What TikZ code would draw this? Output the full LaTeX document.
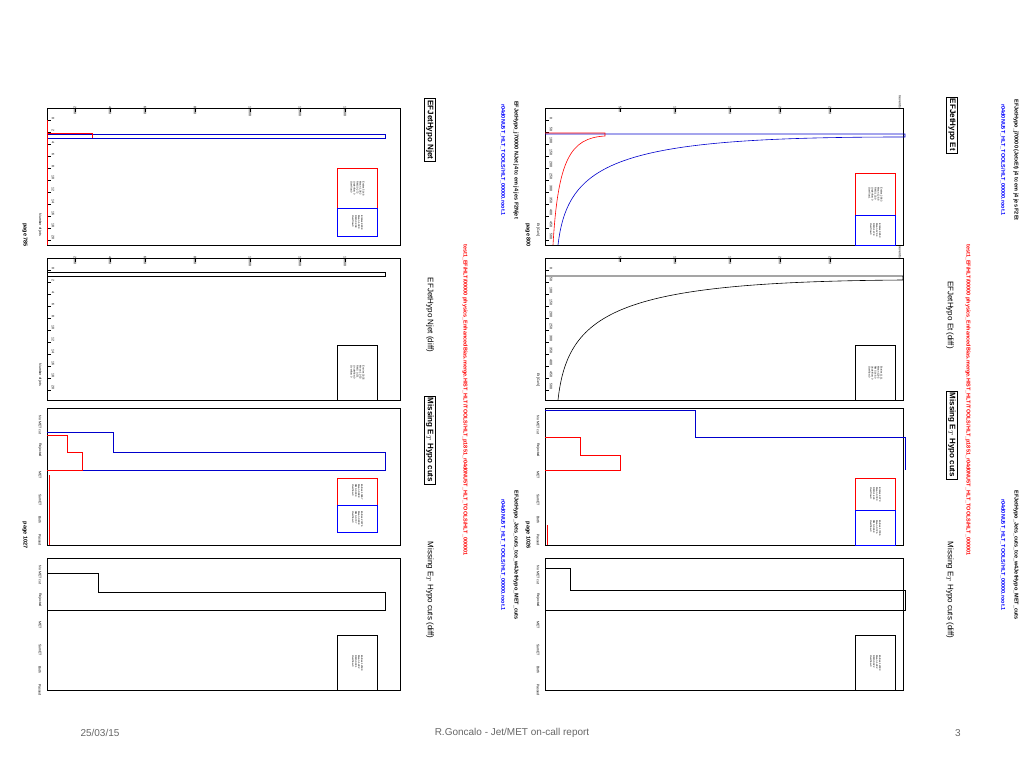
\documentclass[tikz,border=0pt]{standalone}
\usepackage{fontspec}
\setmainfont{Liberation Sans}
\begin{document}
\begin{tikzpicture}[
	x=1pt, y=-1pt,
	frame/.style={draw, line width=0.5pt},
	hred/.style={draw=red, line width=0.6pt},
	hblue/.style={draw=blue!80!black, line width=0.6pt},
	hblack/.style={draw=black, line width=0.6pt},
	titlebox/.style={draw, line width=0.8pt, rotate=-90, font=\fontsize{8}{8}\selectfont\bfseries, inner sep=2pt, fill=white},
	titlefree/.style={rotate=-90, font=\fontsize{8}{8}\selectfont},
	statbox/.style={draw, line width=0.8pt, minimum width=40pt, fill=white},
	stattxt/.style={rotate=-90, font=\fontsize{2.5}{3}\selectfont, inner sep=0.5pt},
	head/.style={rotate=-90, font=\fontsize{5.5}{6}\selectfont\bfseries, inner sep=0pt},
	tick/.style={rotate=-90, font=\fontsize{3.5}{3.5}\selectfont, inner sep=0.5pt},
	foot/.style={font=\fontsize{10}{10}\selectfont, text=black!60}
	]
	\useasboundingbox (0,0) rectangle (1024,768);
	
	%-----------------------
	% Right page (page 800)
	%-----------------------
	\node[head, text=black] (rhd1) at (1016,160) {EFJetHypo\_j70000 (JetxEt) j4 tc em j4 jes F2Et};
	\node[head, text=blue]  (rhd2) at (1003,160) {r04d0NU5T\_HLT\_TOOLS/HLT\_00000.root.1};
	\node[head, text=red]   (rhd3) at (968,400) {test1\_EF/HLT/00000 physics\_EnhancedBias.merge.HIST\_HLT/TOOLS/HLT\_p1851\_r04d0NU5T\_HLT\_TOOLS/HLT\_000001};
	\node[head, text=black] (rhd4) at (1016,555) {EFJetHypo\_Jets\_cuts\_tce\_w4JetHypo\_MET\_cuts};
	\node[head, text=blue]  (rhd5) at (1003,555) {r04d0NU5T\_HLT\_TOOLS/HLT\_00000.root.1};
	\node[head, text=black] (rpage) at (528,235) {page 800};
	\node[head, text=black] (rpage2) at (528,535) {page 1026};
	
	% frames
	\draw[frame] (545,108) rectangle (903,245);
	\draw[frame] (545,258) rectangle (903,400);
	\draw[frame] (545,408) rectangle (903,545);
	\draw[frame] (545,558) rectangle (903,690);
	\foreach \yy in {108,258} {
		\foreach \xx/\lb in {620/500,675/1000,730/1500,780/2000,830/2500} {
			\draw (\xx,\yy) -- (\xx,\yy+4);
			\node[tick, anchor=west] at (\xx,\yy-2) {\lb};
		}
		\foreach \yt/\lb in {120/0,132/50,144/100,156/150,168/200,180/250,192/300,204/350,216/400,228/450,240/500} {
			\draw (545,\yt+\yy-108) -- (549,\yt+\yy-108);
			\node[tick, anchor=east] at (551,\yt+\yy-108) {\lb};
		}
		\node[tick] (n\yy) at (900,\yy-6) {nevents};
	}
	\node[tick] (lx1) at (538,230) {Et [GeV]};
	\node[tick] (lx2) at (538,380) {Et [GeV]};
	
	% Et histograms
	\draw[hblue] (545,134) -- (905,134) -- (905,137) .. controls (620,137) and (568,160) .. (558,245);
	\draw[hred] (545,133) -- (605,133) -- (605,136) .. controls (570,138) and (558,160) .. (553,245);
	\draw[hblack] (545,276) -- (903,276) -- (903,280) .. controls (620,282) and (568,310) .. (558,400);
	
	\node[titlebox] (rt1) at (952,125) {EFJetHypo Et};
	\node[titlefree] (rt2) at (950,315) {EFJetHypo Et (diff)};
	\node[titlebox] (rt3) at (952,435) {Missing E$_T$ Hypo cuts};
	\node[titlefree] (rt4) at (950,590) {Missing E$_T$ Hypo cuts (diff)};
	
	% stat boxes
	\node[statbox, draw=red, minimum height=42pt, anchor=north west] (rs1) at (855,173) {};
	\node[statbox, draw=blue, minimum height=30pt, anchor=north west] (rs2) at (855,215) {};
	\node[statbox, minimum height=55pt, anchor=north west] (rs3) at (855,345) {};
	\node[statbox, draw=red, minimum height=32pt, anchor=north west] (rs4) at (855,478) {};
	\node[statbox, draw=blue, minimum height=35pt, anchor=north west] (rs5) at (855,510) {};
	\node[statbox, minimum height=55pt, anchor=north west] (rs6) at (855,635) {};
	\foreach \n/\t in {rs1/{Entries 2863 \\ Mean 128.8 \\ RMS 133.9 \\ Underflow 0 \\ Overflow 1}, rs2/{Entries 9853 \\ Mean 129.4 \\ RMS 147.8 \\ Overflow 0}, rs3/{Entries 1111 \\ Mean 129.5 \\ RMS 148.0 \\ Underflow 0 \\ Overflow 0}, rs4/{Entries 4973 \\ Mean 0.780 \\ RMS 1.424 \\ Overflow 0}, rs5/{Entries 17306 \\ Mean 0.726 \\ RMS 0.468 \\ Overflow 0}, rs6/{Entries 12333 \\ Mean 1.282 \\ RMS 0.322 \\ Overflow 0}}
		\node[stattxt, align=left] at (\n.center) {\t};
	
	% Missing ET histograms
	\draw[hblue] (545,410) -- (695,410) -- (695,437) -- (905,437) -- (905,470);
	\draw[hred] (545,437) -- (580,437) -- (580,455) -- (620,455) -- (620,470) -- (545,470);
	\draw[hred] (547,525) -- (547,545);
	\draw[hblack] (545,568) -- (570,568) -- (570,590) -- (905,590) -- (905,610) -- (545,610);
	\foreach \yy/\lb in {425/{No MET cut},450/{Rejected},475/{MET},500/{SumET},520/{Both},540/{Passed}}
		\node[tick] at (538,\yy) {\lb};
	\foreach \yy/\lb in {575/{No MET cut},600/{Rejected},625/{MET},650/{SumET},670/{Both},690/{Passed}}
		\node[tick] at (538,\yy) {\lb};
	
	%-----------------------
	% Left page (page 1026)
	%-----------------------
	\node[head, text=black] (lhd1) at (516,160) {EFJetHypo\_j70000 NJet j4 tc em j4 jes F2Njet};
	\node[head, text=blue]  (lhd2) at (503,160) {r04d0NU5T\_HLT\_TOOLS/HLT\_00000.root.1};
	\node[head, text=red]   (lhd3) at (465,400) {test1\_EF/HLT/00000 physics\_EnhancedBias.merge.HIST\_HLT/TOOLS/HLT\_p1851\_r04d0NU5T\_HLT\_TOOLS/HLT\_000001};
	\node[head, text=black] (lhd4) at (516,555) {EFJetHypo\_Jets\_cuts\_tce\_w4JetHypo\_MET\_cuts};
	\node[head, text=blue]  (lhd5) at (503,555) {r04d0NU5T\_HLT\_TOOLS/HLT\_00000.root.1};
	\node[head, text=black] (lpage) at (25,235) {page 785};
	\node[head, text=black] (lpage2) at (25,535) {page 1027};
	
	\draw[frame] (47,108) rectangle (400,245);
	\draw[frame] (47,258) rectangle (400,400);
	\draw[frame] (47,408) rectangle (400,545);
	\draw[frame] (47,558) rectangle (400,690);
	\foreach \yy in {108,258} {
		\foreach \xx/\lb in {75/2000,110/4000,145/6000,195/8000,250/10000,300/12000,345/14000} {
			\draw (\xx,\yy) -- (\xx,\yy+4);
			\node[tick, anchor=west] at (\xx,\yy-2) {\lb};
		}
		\foreach \yt/\lb in {120/0,132/2,144/4,156/6,168/8,180/10,192/12,204/14,216/16,228/18,240/20} {
			\draw (47,\yt+\yy-108) -- (51,\yt+\yy-108);
			\node[tick, anchor=east] at (53,\yt+\yy-108) {\lb};
		}
	}
	\node[tick] (llx1) at (40,225) {Number of jets};
	\node[tick] (llx2) at (40,375) {Number of jets};
	
	\draw[hblue] (47,134) -- (385,134) -- (385,138) -- (47,138);
	\draw[hred] (47,133) -- (92,133) -- (92,138);
	\draw[hred] (47,120) -- (47,245);
	\draw[hblack] (47,272) -- (385,272) -- (385,276) -- (47,276);
	
	\node[titlebox] (lt1) at (430,130) {EFJetHypo Njet};
	\node[titlefree] (lt2) at (430,315) {EFJetHypo Njet (diff)};
	\node[titlebox] (lt3) at (430,440) {Missing E$_T$ Hypo cuts};
	\node[titlefree] (lt4) at (430,590) {Missing E$_T$ Hypo cuts (diff)};
	
	\node[statbox, draw=red, minimum height=40pt, anchor=north west] (ls1) at (337,168) {};
	\node[statbox, draw=blue, minimum height=28pt, anchor=north west] (ls2) at (337,208) {};
	\node[statbox, minimum height=55pt, anchor=north west] (ls3) at (337,345) {};
	\node[statbox, draw=red, minimum height=27pt, anchor=north west] (ls4) at (337,478) {};
	\node[statbox, draw=blue, minimum height=27pt, anchor=north west] (ls5) at (337,505) {};
	\node[statbox, minimum height=55pt, anchor=north west] (ls6) at (337,635) {};
	\foreach \n/\t in {ls1/{Entries 5148 \\ Mean 1.082 \\ RMS 0.272 \\ Underflow 0 \\ Overflow 0}, ls2/{Entries 8808 \\ Mean 1.099 \\ RMS 0.308 \\ Overflow 0}, ls3/{Entries 3335 \\ Mean 1.053 \\ RMS 0.371 \\ Underflow 0 \\ Overflow 0}, ls4/{Entries 10867 \\ Mean 0.888 \\ RMS 0.909 \\ Overflow 0}, ls5/{Entries 23376 \\ Mean 0.808 \\ RMS 0.737 \\ Overflow 0}, ls6/{Entries 12509 \\ Mean 1.282 \\ RMS 0.331 \\ Overflow 0}}
		\node[stattxt, align=left] at (\n.center) {\t};
	
	\draw[hblue] (47,432) -- (113,432) -- (113,452) -- (385,452) -- (385,470) -- (47,470);
	\draw[hred] (47,435) -- (67,435) -- (67,452) -- (82,452) -- (82,470) -- (47,470);
	\draw[hred] (49,475) -- (49,545);
	\draw[hblack] (47,573) -- (98,573) -- (98,592) -- (385,592) -- (385,610) -- (47,610);
	\foreach \yy/\lb in {425/{No MET cut},450/{Rejected},475/{MET},500/{SumET},520/{Both},540/{Passed}}
		\node[tick] at (40,\yy) {\lb};
	\foreach \yy/\lb in {575/{No MET cut},600/{Rejected},625/{MET},650/{SumET},670/{Both},690/{Passed}}
		\node[tick] at (40,\yy) {\lb};
	
	%-----------------------
	% Footer
	%-----------------------
	\node[foot] (date) at (100,733) {25/03/15};
	\node[foot] (title) at (512,733) {R.Goncalo - Jet/MET on-call report};
	\node[foot] (num) at (958,733) {3};
\end{tikzpicture}
\end{document}
